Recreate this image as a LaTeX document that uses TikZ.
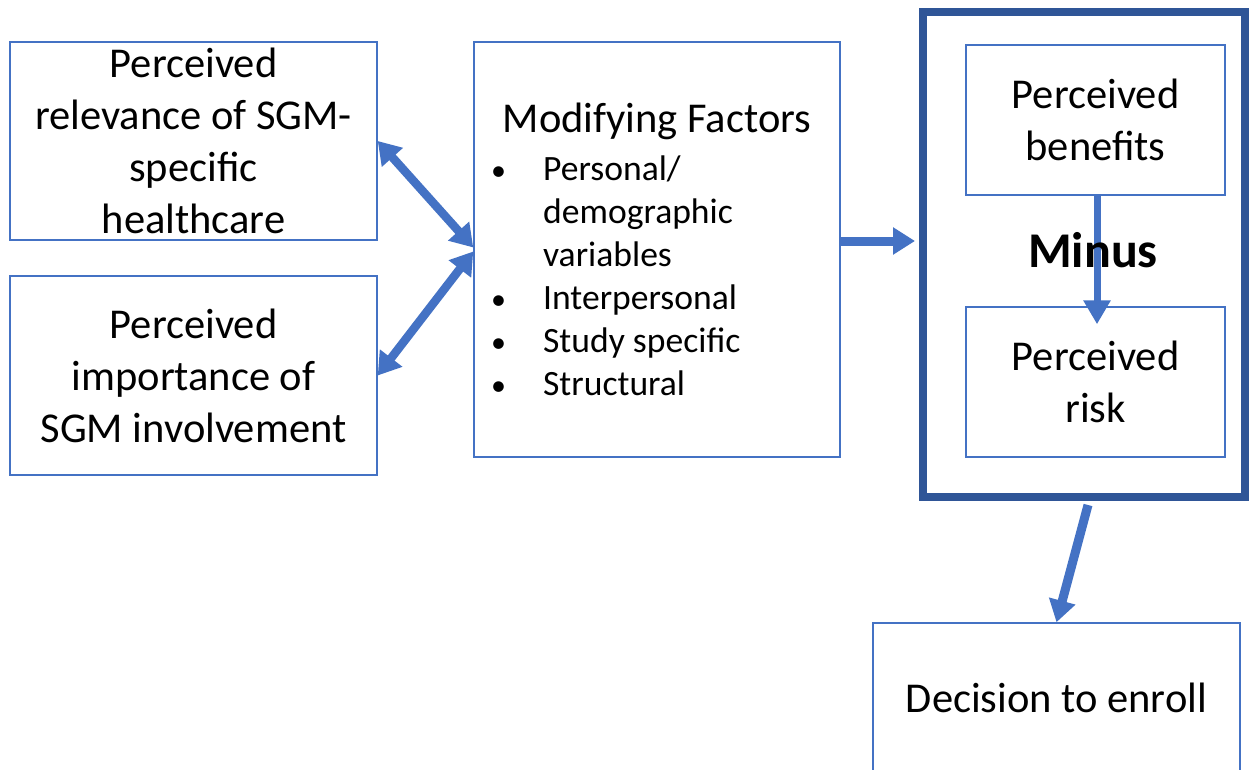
\documentclass[tikz,border=0pt]{standalone}
\usepackage{fontspec}
\setmainfont{Carlito}
\usetikzlibrary{arrows.meta}
\definecolor{boxblue}{HTML}{4472C4}
\definecolor{darkblue}{HTML}{2F5597}
\newcommand{\bul}{{\fontsize{30}{43}\selectfont •}}
\tikzset{
  box/.style={draw=boxblue, line width=1.5pt, rectangle, inner sep=0pt, align=center,
    font=\fontsize{42.5}{52}\selectfont},
  bigarrow/.style={draw=boxblue, line width=9pt, -{Triangle[length=22pt,width=26pt]}},
  dblarrow/.style={draw=boxblue, line width=8.5pt, {Triangle[length=22pt,width=27pt]}-{Triangle[length=22pt,width=27pt]}},
}
\begin{document}
\begin{tikzpicture}[x=1pt,y=-1pt]
\useasboundingbox[fill=white] (0,0) rectangle (1249,770);
% left boxes
\node[box, minimum width=367pt, minimum height=198pt] (b1) at (193.5,141)
  {Perceived\\relevance of SGM-\\specific\\healthcare};
\node[box, minimum width=367pt, minimum height=199pt] (b2) at (193.5,375.5)
  {Perceived\\importance of\\SGM involvement};
% modifying factors
\node[box, minimum width=366pt, minimum height=415pt] (mod) at (657,249.5) {};
\node[font=\fontsize{42.5}{52}\selectfont, inner sep=0pt, anchor=base] (modt) at (657,133) {Modifying Factors};
\node[inner sep=0pt, anchor=north west, font=\fontsize{35.6}{43}\selectfont] (list) at (491,150)
  {\begin{tabular}{@{}l@{\hspace{37pt}}l@{}}
   \bul & Personal/\\
     & demographic\\
     & variables\\
   \bul & Interpersonal\\
   \bul & Study specific\\
   \bul & Structural
   \end{tabular}};
% big thick box
\node[draw=darkblue, line width=8pt, rectangle, inner sep=0pt, minimum width=322pt, minimum height=485pt] (big) at (1084,254.5) {};
\node[box, minimum width=259pt, minimum height=150pt] (ben) at (1095.5,120) {Perceived\\benefits};
\node[box, minimum width=259pt, minimum height=150pt] (risk) at (1095.5,382) {Perceived\\risk};
\draw[bigarrow, line width=7pt, -{Triangle[length=24pt,width=26pt]}, shorten >=-18pt] ([xshift=1.5pt]ben.south) -- ([xshift=1.5pt]risk.north);
\node[font=\bfseries\fontsize{50}{56}\selectfont, inner sep=0pt, anchor=base] (minus) at (1093,267) {Minus};
% decision
\node[box, minimum width=367pt, minimum height=149pt] (dec) at (1056.5,697.5) {Decision to enroll};
% arrows
\draw[dblarrow] (b1.east) -- ([yshift=2pt]mod.west);
\draw[dblarrow] (b2.east) -- ([yshift=-2pt]mod.west);
\draw[bigarrow] ([yshift=8.5pt]mod.east) -- ([yshift=13.5pt,xshift=-4pt]big.west);
\draw[bigarrow] ([xshift=4pt,yshift=-4pt]big.south) -- (dec.north);
\end{tikzpicture}
\end{document}
